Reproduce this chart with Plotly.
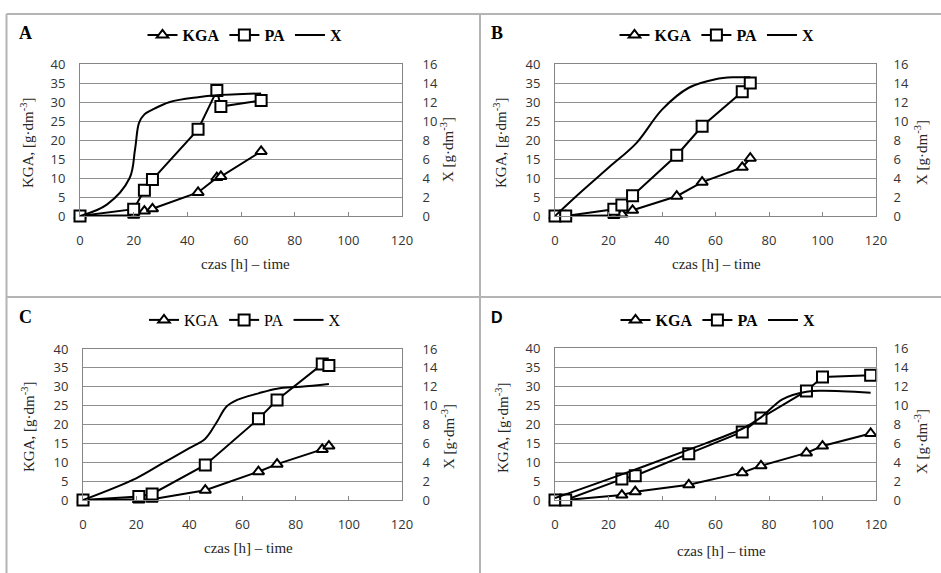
import plotly.graph_objects as go

# ---------------- data ----------------
# Panel A
A_t = [0, 20, 24, 27, 44, 51, 52.5, 67.5]
A_kga = [0, 0.2, 1.3, 1.9, 6.2, 10.1, 10.4, 17.0]
A_pa = [0, 1.8, 6.8, 9.6, 22.8, 33.0, 28.8, 30.4]
A_xt = [0, 10, 18.5, 20.5, 22, 24, 27, 33.5, 44, 51, 67.5]
A_xv = [0, 1.2, 4.0, 7.0, 9.8, 10.7, 11.2, 12.0, 12.5, 12.7, 12.9]

# Panel B
B_t = [0, 4, 22, 25, 29, 45.5, 55, 70, 73]
B_kga = [0, 0, 0.1, 0.5, 1.5, 5.2, 8.9, 12.8, 15.2]
B_pa = [0, 0, 1.8, 2.9, 5.3, 16.0, 23.6, 32.7, 35.0]
B_xt = [0, 10, 20.5, 30.5, 40, 50, 60, 67, 73]
B_xv = [0, 2.6, 5.2, 7.7, 11.2, 13.5, 14.4, 14.6, 14.6]

# Panel C
C_t = [0, 21, 26, 46, 66, 73, 90, 92.5]
C_kga = [0, 0, 0.2, 2.6, 7.5, 9.5, 13.4, 14.3]
C_pa = [0, 0.9, 1.6, 9.3, 21.5, 26.5, 36.0, 35.6]
C_xt = [0, 20, 30, 40, 46, 50, 54, 58, 66, 73, 82, 92.5]
C_xv = [0, 2.3, 3.9, 5.5, 6.5, 8.1, 9.9, 10.6, 11.3, 11.8, 12.0, 12.3]

# Panel D
D_t = [0, 4, 25, 30, 50, 70, 77, 94, 100, 118]
D_kga = [0, 0, 1.3, 2.2, 4.0, 7.2, 9.0, 12.4, 14.2, 17.5]
D_pa = [0, 0, 5.5, 6.4, 12.2, 17.9, 21.6, 28.7, 32.4, 32.8]
D_xt = [0, 25, 50, 70, 77, 85, 94, 100, 118]
D_xv = [0.2, 2.7, 5.3, 7.5, 8.7, 10.6, 11.4, 11.5, 11.3]

x_ticks = [0, 20, 40, 60, 80, 100, 120]
kga_ticks = [0, 5, 10, 15, 20, 25, 30, 35, 40]
x_right_ticks = [0, 2, 4, 6, 8, 10, 12, 14, 16]

# ---------------- layout helpers ----------------
W, H = 941, 573


def fx(p):
    return p / W


def fy(p):
    return 1 - p / H


SERIF = "Liberation Serif"
TICKFONT = dict(family="Open Sans", size=13, color="#333333")
AXCOL = "#868686"
GRIDCOL = "#8f8f8f"

panels = [
    dict(letter="A", t=A_t, kga=A_kga, pa=A_pa, xt=A_xt, xv=A_xv,
         box=(80, 402, 64, 216), bold=True, lfont=SERIF, lsize=18, r_off=17,
         letter_pos=(25, 33), leg=(245, 35),
         ytitle=(27, 143), y2title=(447, 150), xtitle=(245, 264)),
    dict(letter="B", t=B_t, kga=B_kga, pa=B_pa, xt=B_xt, xv=B_xv,
         box=(555, 876, 64, 216), bold=True, lfont=SERIF, lsize=18, r_off=14,
         letter_pos=(497, 33), leg=(717, 35),
         ytitle=(500, 143), y2title=(921, 153), xtitle=(716, 264)),
    dict(letter="C", t=C_t, kga=C_kga, pa=C_pa, xt=C_xt, xv=C_xv,
         box=(83, 402, 349, 500), bold=False, lfont=SERIF, lsize=18, r_off=17,
         letter_pos=(25, 317), leg=(245, 320),
         ytitle=(28, 427), y2title=(448, 437), xtitle=(249, 548)),
    dict(letter="D", t=D_t, kga=D_kga, pa=D_pa, xt=D_xt, xv=D_xv,
         box=(555, 876, 348, 500), bold=True, lfont="Liberation Sans", lsize=16, r_off=14,
         letter_pos=(497, 317), leg=(718, 320),
         ytitle=(502, 428), y2title=(921, 442), xtitle=(721, 551)),
]

fig = go.Figure()
layout = dict(width=W, height=H,
              margin=dict(l=0, r=0, t=0, b=0, pad=0, autoexpand=False),
              paper_bgcolor="white", plot_bgcolor="white",
              showlegend=True, annotations=[], shapes=[])

for i, p in enumerate(panels, start=1):
    xa = "x" if i == 1 else f"x{i}"
    yl = "y" if i == 1 else f"y{2 * i - 1}"
    yr = f"y{2 * i}"
    legname = "legend" if i == 1 else f"legend{i}"
    x0, x1, y0, y1 = p["box"]

    fig.add_trace(go.Scatter(
        x=p["xt"], y=p["xv"], xaxis=xa, yaxis=yr, mode="lines", name="X",
        line=dict(color="black", width=2, shape="spline", smoothing=1.0),
        legend=legname, legendrank=3, cliponaxis=False, hoverinfo="skip"))
    fig.add_trace(go.Scatter(
        x=p["t"], y=p["kga"], xaxis=xa, yaxis=yl, mode="lines+markers", name="KGA",
        line=dict(color="black", width=2),
        marker=dict(symbol="triangle-up", size=10, color="white",
                    line=dict(color="black", width=2)),
        legend=legname, legendrank=1, cliponaxis=False))
    fig.add_trace(go.Scatter(
        x=p["t"], y=p["pa"], xaxis=xa, yaxis=yl, mode="lines+markers", name="PA",
        line=dict(color="black", width=2),
        marker=dict(symbol="square", size=11, color="white",
                    line=dict(color="black", width=2)),
        legend=legname, legendrank=2, cliponaxis=False))

    xkey = "xaxis" if i == 1 else f"xaxis{i}"
    ylkey = "yaxis" if i == 1 else f"yaxis{2 * i - 1}"
    yrkey = f"yaxis{2 * i}"

    layout[xkey] = dict(domain=[fx(x0), fx(x1)], range=[0, 120], tickvals=x_ticks,
                        anchor=yl, showline=True, linecolor=AXCOL, linewidth=1,
                        mirror=True, ticks="inside", ticklen=4, tickcolor=AXCOL,
                        showgrid=False, zeroline=False, tickfont=TICKFONT,
                        ticklabelstandoff=12, fixedrange=True, automargin=False)
    layout[ylkey] = dict(domain=[fy(y1), fy(y0)], range=[0, 40], tickvals=kga_ticks,
                         anchor=xa, showline=True, linecolor=AXCOL, linewidth=1,
                         showgrid=True, gridcolor=GRIDCOL, gridwidth=1,
                         zeroline=False, ticks="", tickfont=TICKFONT,
                         ticklabelstandoff=11, fixedrange=True, automargin=False)
    layout[yrkey] = dict(domain=[fy(y1), fy(y0)], range=[0, 16], tickvals=x_right_ticks,
                         anchor=xa, overlaying=yl, side="right", showline=True,
                         linecolor=AXCOL, linewidth=1, showgrid=False, zeroline=False,
                         ticks="", tickfont=TICKFONT, ticklabelstandoff=p["r_off"],
                         fixedrange=True, automargin=False)

    lf = dict(family=SERIF, size=16, color="black",
              weight="bold" if p["bold"] else "normal")
    layout[legname] = dict(orientation="h", x=fx(p["leg"][0]), y=fy(p["leg"][1]),
                           xanchor="center", yanchor="middle", font=lf,
                           bgcolor="rgba(0,0,0,0)", itemwidth=30,
                           traceorder="normal", tracegroupgap=0)

    ann = layout["annotations"]
    common = dict(xref="paper", yref="paper", showarrow=False,
                  xanchor="center", yanchor="middle")
    ann.append(dict(text=p["letter"], x=fx(p["letter_pos"][0]), y=fy(p["letter_pos"][1]),
                    font=dict(family=p["lfont"], size=p["lsize"], color="black",
                              weight="bold"), **common))
    ann.append(dict(text="KGA, [g·dm<sup>-3</sup>]", x=fx(p["ytitle"][0]),
                    y=fy(p["ytitle"][1]), textangle=-90,
                    font=dict(family=SERIF, size=15, color="#262626"), **common))
    ann.append(dict(text="X [g·dm<sup>-3</sup>]", x=fx(p["y2title"][0]),
                    y=fy(p["y2title"][1]), textangle=-90,
                    font=dict(family=SERIF, size=15, color="#262626"), **common))
    ann.append(dict(text="czas [h] – time", x=fx(p["xtitle"][0]), y=fy(p["xtitle"][1]),
                    font=dict(family=SERIF, size=15, color="#262626"), **common))

# panel frame lines (table borders)
BORDER = "#b4b4b4"
for (xa0, ya0, xa1, ya1) in [(6.5, 14, 941, 14), (6.5, 14, 6.5, 573),
                             (480, 14, 480, 573), (6.5, 297, 941, 297)]:
    layout["shapes"].append(dict(type="line", xref="paper", yref="paper",
                                 x0=fx(xa0), y0=fy(ya0), x1=fx(xa1), y1=fy(ya1),
                                 line=dict(color=BORDER, width=2)))

fig.update_layout(**layout)
fig.write_html("out.html", config={"displayModeBar": False},
               post_script="document.body.style.margin='0px';")
